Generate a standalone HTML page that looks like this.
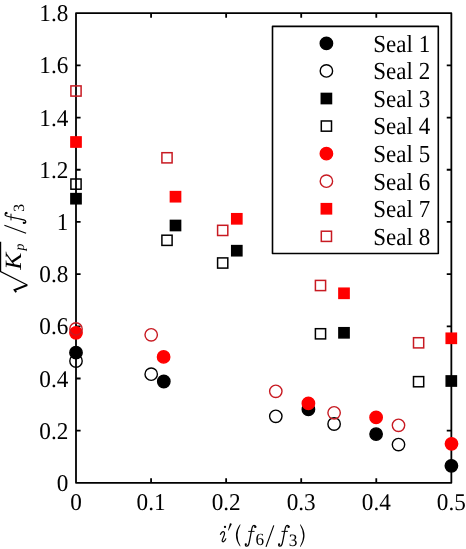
<!DOCTYPE html>
<html><head><meta charset="utf-8"><style>
html,body{margin:0;padding:0;background:#fff;}
body{width:466px;height:549px;overflow:hidden;}
svg{display:block;}
text{text-rendering:geometricPrecision;}
svg{will-change:transform;}
.t{font-family:"Liberation Serif",serif;font-size:23.2px;fill:#000;}
.l{font-family:"Liberation Serif",serif;font-size:23px;fill:#000;}
.g{font-family:"Liberation Serif",serif;font-size:100px;fill:#000;}
.m{font-family:"Liberation Serif",serif;font-size:22px;fill:#000;}
</style></head><body>
<svg width="466" height="549" viewBox="0 0 466 549">
<path d="M76.0 13.2H451.35V482.85H76.0Z" fill="none" stroke="#000" stroke-width="1.8" stroke-linejoin="round"/>
<path d="M151.07 482.85V478.25M151.07 13.2V17.80M226.14 482.85V478.25M226.14 13.2V17.80M301.21 482.85V478.25M301.21 13.2V17.80M376.28 482.85V478.25M376.28 13.2V17.80M76.0 430.67H80.60M451.35 430.67H446.75M76.0 378.48H80.60M451.35 378.48H446.75M76.0 326.30H80.60M451.35 326.30H446.75M76.0 274.12H80.60M451.35 274.12H446.75M76.0 221.93H80.60M451.35 221.93H446.75M76.0 169.75H80.60M451.35 169.75H446.75M76.0 117.57H80.60M451.35 117.57H446.75M76.0 65.38H80.60M451.35 65.38H446.75" fill="none" stroke="#000" stroke-width="1.8"/>
<circle cx="76" cy="352.7" r="6.2" fill="#000" stroke="#000" stroke-width="1.4"/>
<circle cx="163.8" cy="381.5" r="6.2" fill="#000" stroke="#000" stroke-width="1.4"/>
<circle cx="308.4" cy="409.4" r="6.2" fill="#000" stroke="#000" stroke-width="1.4"/>
<circle cx="376.1" cy="434.1" r="6.2" fill="#000" stroke="#000" stroke-width="1.4"/>
<circle cx="451.4" cy="465.8" r="6.2" fill="#000" stroke="#000" stroke-width="1.4"/>
<circle cx="76" cy="361.0" r="6.2" fill="none" stroke="#000" stroke-width="1.4"/>
<circle cx="151.2" cy="374.2" r="6.2" fill="none" stroke="#000" stroke-width="1.4"/>
<circle cx="275.8" cy="416.3" r="6.2" fill="none" stroke="#000" stroke-width="1.4"/>
<circle cx="334.1" cy="424.0" r="6.2" fill="none" stroke="#000" stroke-width="1.4"/>
<circle cx="398.5" cy="444.6" r="6.2" fill="none" stroke="#000" stroke-width="1.4"/>
<rect x="70.90" y="193.60" width="10.2" height="10.2" fill="#000" stroke="#000" stroke-width="1.5"/>
<rect x="170.40" y="220.40" width="10.2" height="10.2" fill="#000" stroke="#000" stroke-width="1.5"/>
<rect x="231.70" y="245.60" width="10.2" height="10.2" fill="#000" stroke="#000" stroke-width="1.5"/>
<rect x="338.90" y="327.70" width="10.2" height="10.2" fill="#000" stroke="#000" stroke-width="1.5"/>
<rect x="446.20" y="375.90" width="10.2" height="10.2" fill="#000" stroke="#000" stroke-width="1.5"/>
<rect x="70.90" y="179.00" width="10.2" height="10.2" fill="none" stroke="#000" stroke-width="1.5"/>
<rect x="161.90" y="235.20" width="10.2" height="10.2" fill="none" stroke="#000" stroke-width="1.5"/>
<rect x="217.60" y="257.90" width="10.2" height="10.2" fill="none" stroke="#000" stroke-width="1.5"/>
<rect x="315.40" y="328.70" width="10.2" height="10.2" fill="none" stroke="#000" stroke-width="1.5"/>
<rect x="413.50" y="376.60" width="10.2" height="10.2" fill="none" stroke="#000" stroke-width="1.5"/>
<circle cx="76" cy="332.8" r="6.2" fill="#ff0000" stroke="#ff0000" stroke-width="1.4"/>
<circle cx="163.6" cy="356.9" r="6.2" fill="#ff0000" stroke="#ff0000" stroke-width="1.4"/>
<circle cx="308.4" cy="403.4" r="6.2" fill="#ff0000" stroke="#ff0000" stroke-width="1.4"/>
<circle cx="376.1" cy="417.4" r="6.2" fill="#ff0000" stroke="#ff0000" stroke-width="1.4"/>
<circle cx="451.5" cy="443.8" r="6.2" fill="#ff0000" stroke="#ff0000" stroke-width="1.4"/>
<circle cx="76" cy="328.9" r="6.2" fill="none" stroke="#c81a22" stroke-width="1.4"/>
<circle cx="151.2" cy="334.8" r="6.2" fill="none" stroke="#c81a22" stroke-width="1.4"/>
<circle cx="275.8" cy="391.3" r="6.2" fill="none" stroke="#c81a22" stroke-width="1.4"/>
<circle cx="334.1" cy="412.8" r="6.2" fill="none" stroke="#c81a22" stroke-width="1.4"/>
<circle cx="398.5" cy="425.3" r="6.2" fill="none" stroke="#c81a22" stroke-width="1.4"/>
<rect x="70.90" y="136.90" width="10.2" height="10.2" fill="#ff0000" stroke="#ff0000" stroke-width="1.5"/>
<rect x="170.40" y="191.60" width="10.2" height="10.2" fill="#ff0000" stroke="#ff0000" stroke-width="1.5"/>
<rect x="231.70" y="213.70" width="10.2" height="10.2" fill="#ff0000" stroke="#ff0000" stroke-width="1.5"/>
<rect x="338.90" y="288.20" width="10.2" height="10.2" fill="#ff0000" stroke="#ff0000" stroke-width="1.5"/>
<rect x="446.20" y="333.20" width="10.2" height="10.2" fill="#ff0000" stroke="#ff0000" stroke-width="1.5"/>
<rect x="70.90" y="85.90" width="10.2" height="10.2" fill="none" stroke="#c81a22" stroke-width="1.5"/>
<rect x="161.90" y="152.70" width="10.2" height="10.2" fill="none" stroke="#c81a22" stroke-width="1.5"/>
<rect x="217.60" y="225.30" width="10.2" height="10.2" fill="none" stroke="#c81a22" stroke-width="1.5"/>
<rect x="315.40" y="280.40" width="10.2" height="10.2" fill="none" stroke="#c81a22" stroke-width="1.5"/>
<rect x="413.50" y="337.70" width="10.2" height="10.2" fill="none" stroke="#c81a22" stroke-width="1.5"/>
<text class="t" text-anchor="end" transform="translate(68.30 490.95) scale(1 1.04)">0</text>
<text class="t" text-anchor="end" transform="translate(68.30 438.77) scale(1 1.04)">0.2</text>
<text class="t" text-anchor="end" transform="translate(68.30 386.58) scale(1 1.04)">0.4</text>
<text class="t" text-anchor="end" transform="translate(68.30 334.40) scale(1 1.04)">0.6</text>
<text class="t" text-anchor="end" transform="translate(68.30 282.22) scale(1 1.04)">0.8</text>
<text class="t" text-anchor="end" transform="translate(68.30 230.03) scale(1 1.04)">1</text>
<text class="t" text-anchor="end" transform="translate(68.30 177.85) scale(1 1.04)">1.2</text>
<text class="t" text-anchor="end" transform="translate(68.30 125.67) scale(1 1.04)">1.4</text>
<text class="t" text-anchor="end" transform="translate(68.30 73.48) scale(1 1.04)">1.6</text>
<text class="t" text-anchor="end" transform="translate(68.30 21.30) scale(1 1.04)">1.8</text>
<text class="t" text-anchor="middle" transform="translate(76.00 510.20) scale(1 1.04)">0</text>
<text class="t" text-anchor="middle" transform="translate(151.07 510.20) scale(1 1.04)">0.1</text>
<text class="t" text-anchor="middle" transform="translate(226.14 510.20) scale(1 1.04)">0.2</text>
<text class="t" text-anchor="middle" transform="translate(301.21 510.20) scale(1 1.04)">0.3</text>
<text class="t" text-anchor="middle" transform="translate(376.28 510.20) scale(1 1.04)">0.4</text>
<text class="t" text-anchor="middle" transform="translate(451.35 510.20) scale(1 1.04)">0.5</text>
<rect x="272.5" y="26.4" width="165.80" height="227.10" fill="#fff" stroke="#000" stroke-width="1.6" stroke-linejoin="round"/>
<circle cx="326.4" cy="43.4" r="6.2" fill="#000" stroke="#000" stroke-width="1.4"/>
<text class="l" text-anchor="start" transform="translate(373.30 51.70) scale(1 1.07)">Seal 1</text>
<circle cx="326.4" cy="70.96" r="6.2" fill="none" stroke="#000" stroke-width="1.4"/>
<text class="l" text-anchor="start" transform="translate(373.30 79.26) scale(1 1.07)">Seal 2</text>
<rect x="321.30" y="93.42" width="10.2" height="10.2" fill="#000" stroke="#000" stroke-width="1.5"/>
<text class="l" text-anchor="start" transform="translate(373.30 106.82) scale(1 1.07)">Seal 3</text>
<rect x="321.30" y="120.98" width="10.2" height="10.2" fill="none" stroke="#000" stroke-width="1.5"/>
<text class="l" text-anchor="start" transform="translate(373.30 134.38) scale(1 1.07)">Seal 4</text>
<circle cx="326.4" cy="153.64" r="6.2" fill="#ff0000" stroke="#ff0000" stroke-width="1.4"/>
<text class="l" text-anchor="start" transform="translate(373.30 161.94) scale(1 1.07)">Seal 5</text>
<circle cx="326.4" cy="181.2" r="6.2" fill="none" stroke="#c81a22" stroke-width="1.4"/>
<text class="l" text-anchor="start" transform="translate(373.30 189.50) scale(1 1.07)">Seal 6</text>
<rect x="321.30" y="203.66" width="10.2" height="10.2" fill="#ff0000" stroke="#ff0000" stroke-width="1.5"/>
<text class="l" text-anchor="start" transform="translate(373.30 217.06) scale(1 1.07)">Seal 7</text>
<rect x="321.30" y="231.22" width="10.2" height="10.2" fill="none" stroke="#c81a22" stroke-width="1.5"/>
<text class="l" text-anchor="start" transform="translate(373.30 244.62) scale(1 1.07)">Seal 8</text>
<text class="g" transform="matrix(0.17164 0 0 0.17164 255.62 545.36)">6</text>
<text class="g" transform="matrix(0.17424 0 0 0.17424 288.71 545.53)">3</text>
<text class="g" font-style="italic" transform="matrix(0 -0.25723 0.23385 0 20.50 269.80)">K</text>
<text class="g" font-style="italic" transform="matrix(0 -0.13971 0.13971 0 24.17 250.61)">p</text>
<text class="g" transform="matrix(0 -0.15606 0.15606 0 24.04 211.63)">3</text>
<path d="M266.0 546.9L273.8 525.4M4.4 225.2L26.1 233.3" fill="none" stroke="#000" stroke-width="1.15"/>
<path d="M255.9 527.3C255.9 525.4 253.4 524.5 252.4 526.9C251.3 529.8 250.1 539.8 248.7 544.3C247.9 546.8 245.6 546.7 245.3 544.8" fill="none" stroke="#000" stroke-width="1.25"/><circle cx="255.2" cy="526.9" r="1.15" fill="#000"/><circle cx="245.8" cy="544.3" r="1.15" fill="#000"/><path d="M248.2 531.4H254.6" stroke="#000" stroke-width="0.95"/>
<g transform="translate(33.3 0)"><path d="M255.9 527.3C255.9 525.4 253.4 524.5 252.4 526.9C251.3 529.8 250.1 539.8 248.7 544.3C247.9 546.8 245.6 546.7 245.3 544.8" fill="none" stroke="#000" stroke-width="1.25"/><circle cx="255.2" cy="526.9" r="1.15" fill="#000"/><circle cx="245.8" cy="544.3" r="1.15" fill="#000"/><path d="M248.2 531.4H254.6" stroke="#000" stroke-width="0.95"/></g>
<g transform="matrix(0 -1.04 1.0 0 -520.4 478.5)"><path d="M255.9 527.3C255.9 525.4 253.4 524.5 252.4 526.9C251.3 529.8 250.1 539.8 248.7 544.3C247.9 546.8 245.6 546.7 245.3 544.8" fill="none" stroke="#000" stroke-width="1.25"/><circle cx="255.2" cy="526.9" r="1.15" fill="#000"/><circle cx="245.8" cy="544.3" r="1.15" fill="#000"/><path d="M248.2 531.4H254.6" stroke="#000" stroke-width="0.95"/></g>
<path d="M220.3 534.7C221.1 532.6 222.6 531.3 223.7 531.8C224.8 532.3 224.6 533.8 224.2 535.1L222.3 539.9C221.9 541.1 222.3 541.9 223.2 541.8C224.4 541.6 225.4 540.1 226.0 538.4" fill="none" stroke="#000" stroke-width="1.2"/>
<circle cx="225.0" cy="526.9" r="1.15" fill="#000"/>
<path d="M240.1 524.2Q231.7 535.3 240.1 546.4L240.5 545.9Q234.4 535.3 240.5 524.7Z" fill="#000"/>
<path d="M300.4 524.3Q308.6 535.6 300.4 546.9L300.0 546.4Q306.2 535.6 300.0 524.8Z" fill="#000"/>
<path d="M229.9 523.5Q230.9 523.1 231.8 523.9L228.6 530.6L228.0 530.4Z" fill="#000"/>
<path d="M0.6 241.8V271.6L27.3 285" fill="none" stroke="#000" stroke-width="1.2" stroke-linejoin="miter"/>
<path d="M27.3 285L14.6 290L16.2 292.2" fill="none" stroke="#000" stroke-width="1.9" stroke-linejoin="miter"/>
</svg>
</body></html>
